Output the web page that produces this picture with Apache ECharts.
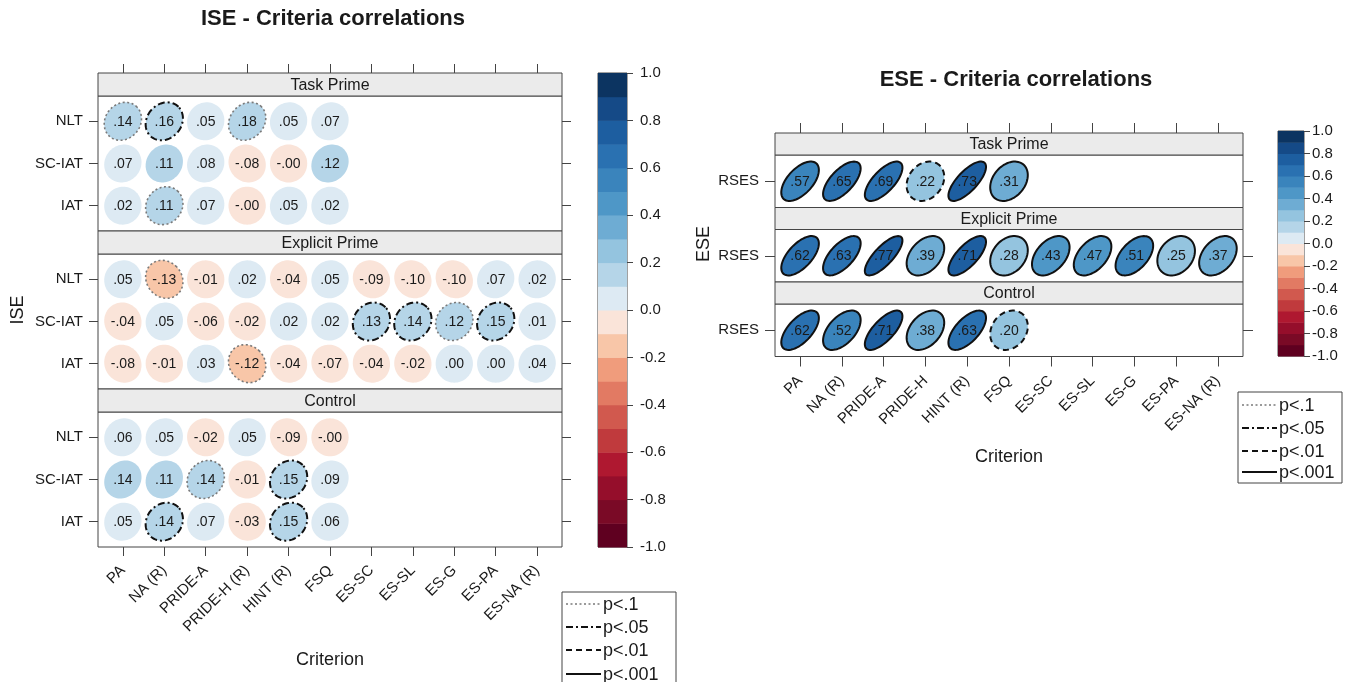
<!DOCTYPE html>
<html>
<head>
<meta charset="utf-8">
<title>ISE / ESE criteria correlations</title>
<script src="https://cdn.jsdelivr.net/npm/echarts@6.0.0/dist/echarts.min.js"></script>
<style>
  html, body { margin: 0; padding: 0; background: #fff; }
  #chart { width: 1360px; height: 682px; }
</style>
</head>
<body>
<div id="chart"></div>
<script>
// x axis criteria
var criteriaISE = ['PA', 'NA (R)', 'PRIDE-A', 'PRIDE-H (R)', 'HINT (R)', 'FSQ', 'ES-SC', 'ES-SL', 'ES-G', 'ES-PA', 'ES-NA (R)'];
var criteriaESE = ['PA', 'NA (R)', 'PRIDE-A', 'PRIDE-H', 'HINT (R)', 'FSQ', 'ES-SC', 'ES-SL', 'ES-G', 'ES-PA', 'ES-NA (R)'];
var groups = ['Task Prime', 'Explicit Prime', 'Control'];
var iseMeasures = ['NLT', 'SC-IAT', 'IAT'];
var eseMeasures = ['RSES'];

// ISE correlations, rows = NLT, SC-IAT, IAT  (-0.001 is a "-.00")
var iseTaskR = [
  [0.14, 0.16, 0.05, 0.18, 0.05, 0.07],
  [0.07, 0.11, 0.08, -0.08, -0.001, 0.12],
  [0.02, 0.11, 0.07, -0.001, 0.05, 0.02]
];
// significance: 0 none, 1 p<.1, 2 p<.05, 3 p<.01, 4 p<.001
var iseTaskP = [
  [1, 2, 0, 1, 0, 0],
  [0, 0, 0, 0, 0, 0],
  [0, 1, 0, 0, 0, 0]
];
var iseExplicitR = [
  [0.05, -0.13, -0.01, 0.02, -0.04, 0.05, -0.09, -0.10, -0.10, 0.07, 0.02],
  [-0.04, 0.05, -0.06, -0.02, 0.02, 0.02, 0.13, 0.14, 0.12, 0.15, 0.01],
  [-0.08, -0.01, 0.03, -0.12, -0.04, -0.07, -0.04, -0.02, 0.00, 0.00, 0.04]
];
var iseExplicitP = [
  [0, 1, 0, 0, 0, 0, 0, 0, 0, 0, 0],
  [0, 0, 0, 0, 0, 0, 2, 2, 1, 2, 0],
  [0, 0, 0, 1, 0, 0, 0, 0, 0, 0, 0]
];
var iseControlR = [
  [0.06, 0.05, -0.02, 0.05, -0.09, -0.001],
  [0.14, 0.11, 0.14, -0.01, 0.15, 0.09],
  [0.05, 0.14, 0.07, -0.03, 0.15, 0.06]
];
var iseControlP = [
  [0, 0, 0, 0, 0, 0],
  [0, 0, 1, 0, 2, 0],
  [0, 2, 0, 0, 2, 0]
];

// ESE correlations, row = RSES
var eseTaskR = [[0.57, 0.65, 0.69, 0.22, 0.73, 0.31]];
var eseTaskP = [[4, 4, 4, 3, 4, 4]];
var eseExplicitR = [[0.62, 0.63, 0.77, 0.39, 0.71, 0.28, 0.43, 0.47, 0.51, 0.25, 0.37]];
var eseExplicitP = [[4, 4, 4, 4, 4, 4, 4, 4, 4, 4, 4]];
var eseControlR = [[0.62, 0.52, 0.71, 0.38, 0.63, 0.20]];
var eseControlP = [[4, 4, 4, 4, 4, 3]];

// colour key: bin edges and colours (bottom -1 to top 1)
var keyBreaks = [-1.0, -0.9, -0.8, -0.7, -0.6, -0.5, -0.4, -0.3, -0.2, -0.1, 0.0, 0.1, 0.2, 0.3, 0.4, 0.5, 0.6, 0.7, 0.8, 0.9, 1.0];
var keyColors = ['#5F0020', '#7A0A26', '#950E2B', '#AF1830', '#C03A3D', '#D1594E', '#E27A63', '#F09C7C', '#F8C6A8', '#FAE4D9',
                 '#DDEAF3', '#B5D5E8', '#94C4DF', '#6EACD3', '#4E97C7', '#3A84BC', '#2A71B1', '#1D5EA0', '#154A87', '#0C3461'];
var pLabels = ['p<.1', 'p<.05', 'p<.01', 'p<.001'];

var FONT = '"Liberation Sans", Arial, sans-serif';
var sigStyle = [
  null,
  {stroke: '#7a7a7a', width: 1.6, dash: [2, 2.5]},
  {stroke: '#111', width: 2, dash: [7, 3, 2, 3]},
  {stroke: '#111', width: 2, dash: [6, 4]},
  {stroke: '#111', width: 2, dash: null}
];

var option = {
  animation: false,
  backgroundColor: '#fff',
  grid: [], xAxis: [], yAxis: [], series: [], graphic: []
};

function fmt(r) {
  return r.toFixed(2).replace(/^(-?)0\./, '$1.');
}

function renderEllipse(params, api) {
  var r = api.value(2), sig = api.value(3);
  var c = api.coord([api.value(0), api.value(1)]);
  var sz = api.size([1, 1]);
  var rx = Math.abs(sz[0]) * 0.45, ry = Math.abs(sz[1]) * 0.45;
  var d = Math.acos(Math.max(-1, Math.min(1, r)));
  var pts = [];
  for (var k = 0; k < 72; k++) {
    var t = k / 72 * 2 * Math.PI;
    pts.push([c[0] + rx * Math.cos(t + d / 2), c[1] - ry * Math.cos(t - d / 2)]);
  }
  var st = sigStyle[sig];
  return {
    type: 'group',
    children: [
      {type: 'polygon', shape: {points: pts},
       style: {fill: api.visual('color'), stroke: st ? st.stroke : null, lineWidth: st ? st.width : 0, lineDash: st ? st.dash : null}},
      {type: 'text',
       style: {text: fmt(r), x: c[0], y: c[1] + 0.5, align: 'center', verticalAlign: 'middle',
               fontSize: 14, fontFamily: FONT, fill: '#1a1a1a'}}
    ]
  };
}

function renderKey(params, api) {
  var p0 = api.coord([0, api.value(0)]);
  var p1 = api.coord([1, api.value(1)]);
  return {type: 'rect', shape: {x: p0[0], y: p1[1], width: p1[0] - p0[0], height: p0[1] - p1[1] + 0.5},
          style: {fill: api.visual('color')}};
}

function addText(x, y, text, size, bold, rot) {
  option.graphic.push({
    type: 'text', x: x, y: y, rotation: rot || 0,
    style: {text: text, fontSize: size, fontWeight: bold ? 'bold' : 'normal', fontFamily: FONT,
            fill: '#1a1a1a', align: 'center', verticalAlign: 'middle', textAlign: 'center', textVerticalAlign: 'middle'}
  });
}

function addPanels(c) {
  var cols = c.criteria.map(function (_, i) { return i; });
  var rows = c.measures.map(function (_, i) { return i; });
  for (var g = 0; g < 3; g++) {
    var gi = option.grid.length;
    var top = c.top + c.strip * (g + 1) + c.panel * g;
    option.grid.push({left: c.x, top: top, width: c.w, height: c.panel, show: true,
                      borderColor: '#444', borderWidth: 1, backgroundColor: '#fff'});
    option.graphic.push({type: 'rect', shape: {x: c.x, y: top - c.strip, width: c.w, height: c.strip},
                         style: {fill: '#EBEBEB', stroke: '#444', lineWidth: 1}});
    addText(c.x + c.w / 2, top - c.strip / 2 + 1, groups[g], 16, false);

    option.xAxis.push({
      gridIndex: gi, type: 'value', min: -0.6, max: c.criteria.length - 0.4,
      show: g !== 1, position: g === 2 ? 'bottom' : 'top', offset: g === 0 ? c.strip : 0,
      axisLine: {show: false, onZero: false}, splitLine: {show: false},
      axisTick: {show: true, customValues: cols, length: c.tick, lineStyle: {color: '#444'}},
      axisLabel: {show: g === 2, customValues: cols, rotate: 45, margin: c.tick + 12, fontSize: 15, color: '#1a1a1a', fontFamily: FONT,
                  formatter: function (v) { return c.criteria[Math.round(v)]; }},
      name: g === 2 ? 'Criterion' : '', nameLocation: 'middle', nameGap: c.nameGap,
      nameTextStyle: {fontSize: 18, color: '#1a1a1a', fontFamily: FONT}
    });
    var yi = option.yAxis.length;
    [ 'left', 'right' ].forEach(function (pos) {
      option.yAxis.push({
        gridIndex: gi, type: 'value', min: -0.6, max: c.measures.length - 0.4, inverse: true, position: pos,
        axisLine: {show: false, onZero: false}, splitLine: {show: false},
        axisTick: {show: true, customValues: rows, length: c.tick, lineStyle: {color: '#444'}},
        axisLabel: {show: pos === 'left', customValues: rows, margin: c.tick + 6, fontSize: 15, color: '#1a1a1a', fontFamily: FONT,
                    formatter: function (v) { return c.measures[Math.round(v)]; }}
      });
    });

    var data = [];
    c.R[g].forEach(function (rowVals, i) {
      rowVals.forEach(function (r, j) { data.push([j, i, r, c.P[g][i][j]]); });
    });
    option.series.push({type: 'custom', xAxisIndex: gi, yAxisIndex: yi, renderItem: renderEllipse, data: data});
  }
}

function addKey(k) {
  var gi = option.grid.length;
  option.grid.push({left: k.x, top: k.top, width: k.w, height: k.h, show: true, borderColor: '#444', borderWidth: 1});
  option.xAxis.push({gridIndex: gi, type: 'value', min: 0, max: 1, show: false});
  option.yAxis.push({
    gridIndex: gi, type: 'value', min: -1, max: 1, interval: 0.2, position: 'right',
    axisLine: {show: false, onZero: false}, splitLine: {show: false},
    axisTick: {show: true, length: 6, lineStyle: {color: '#444'}},
    axisLabel: {margin: k.margin, fontSize: k.font, color: '#1a1a1a', fontFamily: FONT,
                formatter: function (v) { return Math.abs(v) < 1e-9 ? '0.0' : v.toFixed(1); }}
  });
  var data = [];
  for (var i = 0; i < keyColors.length; i++) {
    data.push([keyBreaks[i], keyBreaks[i + 1], (keyBreaks[i] + keyBreaks[i + 1]) / 2]);
  }
  option.series.push({type: 'custom', xAxisIndex: gi, yAxisIndex: option.yAxis.length - 1, renderItem: renderKey, data: data});
}

function addLegend(x, y, w, h, ys) {
  option.graphic.push({type: 'rect', shape: {x: x, y: y, width: w, height: h},
                       style: {fill: '#fff', stroke: '#444', lineWidth: 1}});
  pLabels.forEach(function (lab, i) {
    var st = sigStyle[i + 1];
    option.graphic.push({type: 'line', shape: {x1: x + 4, y1: ys[i], x2: x + 39, y2: ys[i]},
                         style: {stroke: st.stroke, lineWidth: st.width, lineDash: st.dash}});
    option.graphic.push({type: 'text', x: x + 41, y: ys[i] + 1,
                         style: {text: lab, fontSize: 18, fontFamily: FONT, fill: '#1a1a1a',
                                 align: 'left', verticalAlign: 'middle', textAlign: 'left', textVerticalAlign: 'middle'}});
  });
}

// left: ISE
addPanels({x: 98, w: 464, top: 73, strip: 23, panel: 135, nameGap: 104, tick: 9,
           criteria: criteriaISE, measures: iseMeasures,
           R: [iseTaskR, iseExplicitR, iseControlR], P: [iseTaskP, iseExplicitP, iseControlP]});
// right: ESE
addPanels({x: 775, w: 468, top: 133, strip: 22, panel: 52.5, nameGap: 92, tick: 10,
           criteria: criteriaESE, measures: eseMeasures,
           R: [eseTaskR, eseExplicitR, eseControlR], P: [eseTaskP, eseExplicitP, eseControlP]});
addKey({x: 598, top: 73, w: 29, h: 474, margin: 13, font: 15});
addKey({x: 1278, top: 131, w: 26, h: 225, margin: 8, font: 15});

option.visualMap = {
  type: 'piecewise', show: false, dimension: 2,
  seriesIndex: option.series.map(function (_, i) { return i; }),
  pieces: keyColors.map(function (col, i) {
    var p = {gte: keyBreaks[i], color: col};
    if (i === keyColors.length - 1) p.lte = keyBreaks[i + 1]; else p.lt = keyBreaks[i + 1];
    return p;
  })
};

addText(333, 19, 'ISE - Criteria correlations', 22, true);
addText(1016, 80, 'ESE - Criteria correlations', 22, true);
addText(18, 310, 'ISE', 18, false, Math.PI / 2);
addText(704, 244, 'ESE', 18, false, Math.PI / 2);
addLegend(562, 592, 114, 100, [604, 627, 650, 674]);
addLegend(1238, 392, 104, 91, [405, 428, 451, 472]);

var myChart = echarts.init(document.getElementById('chart'));
option && myChart.setOption(option);
</script>
</body>
</html>
